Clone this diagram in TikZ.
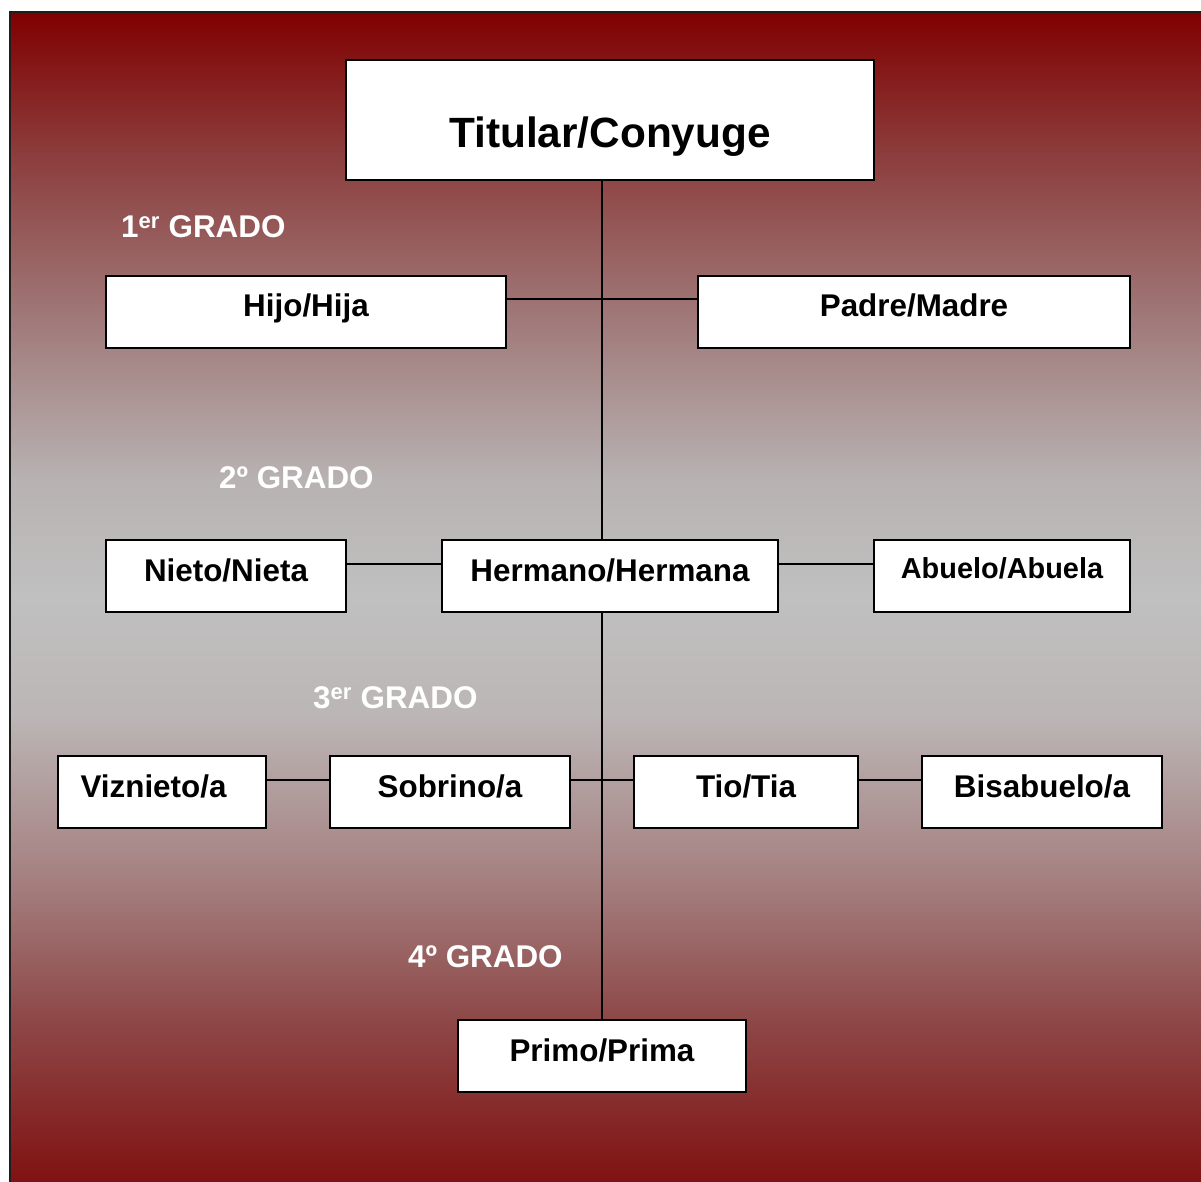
\documentclass[tikz,border=0pt]{standalone}
\usepackage{fontspec}
\setmainfont{Liberation Sans}

% background: dark red at the edges, silver in the middle
\definecolor{gTop}{RGB}{128,0,0}
\definecolor{gA}{RGB}{140,60,60}
\definecolor{gB}{RGB}{160,120,120}
\definecolor{gC}{RGB}{184,178,178}
\definecolor{gMid}{RGB}{192,192,192}
\definecolor{gD}{RGB}{188,182,182}
\definecolor{gE}{RGB}{165,128,128}
\definecolor{gF}{RGB}{142,72,72}
\definecolor{gBot}{RGB}{128,18,18}
\definecolor{frameline}{RGB}{30,30,30}

\pgfdeclareverticalshading{bggrad}{100bp}{%
  color(0bp)=(gBot); color(25bp)=(gBot); color(32bp)=(gF); color(38bp)=(gE);
  color(45bp)=(gD); color(50bp)=(gMid); color(55bp)=(gC); color(62bp)=(gB);
  color(69bp)=(gA); color(75bp)=(gTop); color(100bp)=(gTop)}

\tikzset{
  kinbox/.style={draw=black, line width=2bp, fill=white, inner sep=0pt,
    font=\bfseries\fontsize{31.5}{36}\selectfont,
    text height=23bp, text depth=13bp},
  gradelabel/.style={anchor=base west, inner sep=0pt, text=white,
    font=\bfseries\fontsize{31.5}{36}\selectfont},
  link/.style={draw=black, line width=2bp}
}

\begin{document}
\begin{tikzpicture}[x=1bp, y=-1bp]
  \useasboundingbox (0,0) rectangle (1201,1182);

  % shaded panel with its frame on the top and left sides
  \shade[shading=bggrad] (10,12) rectangle (1201,1182);
  \draw[frameline, line width=2.5bp] (10,1182) -- (10,12) -- (1201,12);

  % family members
  \node[kinbox, minimum width=528bp, minimum height=120bp,
        font=\bfseries\fontsize{42.5}{48}\selectfont,
        text height=60bp, text depth=6bp] (titular) at (610,120) {Titular/Conyuge};

  \node[kinbox, minimum width=400bp, minimum height=72bp,
        text height=22bp, text depth=14bp] (hijo) at (306,312) {Hijo/Hija};
  \node[kinbox, minimum width=432bp, minimum height=72bp,
        text height=22bp, text depth=14bp] (padre) at (914,312) {Padre/Madre};

  \node[kinbox, minimum width=240bp, minimum height=72bp] (nieto) at (226,576) {Nieto/Nieta};
  \node[kinbox, minimum width=336bp, minimum height=72bp] (hermano) at (610,576) {Hermano/Hermana};
  \node[kinbox, minimum width=256bp, minimum height=72bp,
        font=\bfseries\fontsize{29}{34}\selectfont,
        text height=21bp, text depth=17bp] (abuelo) at (1002,576) {Abuelo/Abuela};

  % this label sits a little left of its box centre
  \node[kinbox, minimum width=208bp, minimum height=72bp] (viznieto) at (162,792) {\hspace*{-17bp}Viznieto/a};
  \node[kinbox, minimum width=240bp, minimum height=72bp] (sobrino) at (450,792) {Sobrino/a};
  \node[kinbox, minimum width=224bp, minimum height=72bp] (tio) at (746,792) {Tio/Tia};
  \node[kinbox, minimum width=240bp, minimum height=72bp] (bisabuelo) at (1042,792) {Bisabuelo/a};

  \node[kinbox, minimum width=288bp, minimum height=72bp] (primo) at (602,1056) {Primo/Prima};

  % degree labels
  \node[gradelabel] (g1) at (121,237) {1\textsuperscript{er} GRADO};
  \node[gradelabel] (g2) at (219,488) {2º GRADO};
  \node[gradelabel] (g3) at (313,708) {3\textsuperscript{er} GRADO};
  \node[gradelabel] (g4) at (408,967) {4º GRADO};

  % trunk line
  \coordinate (trunkA) at (602,299);
  \coordinate (trunkC) at (602,780);
  \draw[link] (titular.south -| trunkA) -- (hermano.north -| trunkA);
  \draw[link] (hermano.south -| trunkA) -- (primo.north);

  % first degree
  \draw[link] (hijo.east |- trunkA) -- (padre.west |- trunkA);

  % second degree
  \draw[link] (nieto.east |- 0,564) -- (hermano.west |- 0,564);
  \draw[link] (hermano.east |- 0,564) -- (abuelo.west |- 0,564);

  % third degree
  \draw[link] (viznieto.east |- trunkC) -- (sobrino.west |- trunkC);
  \draw[link] (sobrino.east |- trunkC) -- (tio.west |- trunkC);
  \draw[link] (tio.east |- trunkC) -- (bisabuelo.west |- trunkC);
\end{tikzpicture}
\end{document}
